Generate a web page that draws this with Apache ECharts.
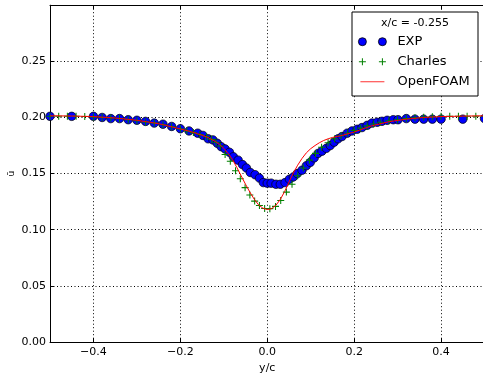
<!DOCTYPE html>
<html>
<head>
<meta charset="utf-8">
<script src="https://cdn.jsdelivr.net/npm/echarts@6/dist/echarts.min.js"></script>
<style>
  html, body { margin: 0; padding: 0; background: #fff; }
  #chart { width: 483px; height: 377px; }
</style>
</head>
<body>
<div id="chart"></div>
<script>
// Mean velocity profile at x/c = -0.255
const stationLabel = 'x/c = -0.255';

// Experiment
const expY = [-0.5, -0.45, -0.40, -0.38, -0.36, -0.34, -0.32, -0.30, -0.28, -0.26,
  -0.24, -0.22, -0.20, -0.18, -0.16, -0.148, -0.136, -0.125, -0.115, -0.106,
  -0.097, -0.087, -0.078, -0.067, -0.057, -0.048, -0.039, -0.028, -0.018, -0.009,
  0.0, 0.009, 0.020, 0.030, 0.041, 0.051, 0.060, 0.069, 0.080, 0.090,
  0.099, 0.108, 0.117, 0.126, 0.136, 0.145, 0.154, 0.163, 0.172, 0.184,
  0.195, 0.207, 0.218, 0.230, 0.241, 0.253, 0.264, 0.276, 0.290, 0.301,
  0.32, 0.34, 0.36, 0.38, 0.40, 0.45, 0.50];
const expU = [0.201, 0.201, 0.201, 0.200, 0.199, 0.199, 0.198, 0.1975, 0.1965, 0.195,
  0.194, 0.192, 0.190, 0.188, 0.186, 0.184, 0.181, 0.180, 0.177, 0.174,
  0.172, 0.169, 0.165, 0.162, 0.158, 0.155, 0.151, 0.149, 0.146, 0.142,
  0.1415, 0.1415, 0.1405, 0.1405, 0.142, 0.145, 0.147, 0.150, 0.153, 0.157,
  0.160, 0.164, 0.168, 0.170, 0.1725, 0.175, 0.178, 0.181, 0.183, 0.186,
  0.188, 0.1895, 0.191, 0.193, 0.195, 0.1957, 0.1966, 0.1975, 0.198, 0.198,
  0.199, 0.1985, 0.1985, 0.1985, 0.1985, 0.1985, 0.199];

// Charles LES
const charlesY = [-0.50, -0.48, -0.46, -0.44, -0.42, -0.40, -0.38, -0.36, -0.34, -0.32,
  -0.30, -0.28, -0.26, -0.24, -0.22, -0.20, -0.185, -0.17, -0.155, -0.14,
  -0.128, -0.118, -0.108, -0.097, -0.085, -0.073, -0.062, -0.051, -0.040, -0.029,
  -0.018, -0.006, 0.006, 0.019, 0.031, 0.044, 0.057, 0.070, 0.083, 0.097,
  0.111, 0.125, 0.140, 0.155, 0.170, 0.185, 0.200, 0.215, 0.230, 0.245,
  0.260, 0.280, 0.300, 0.320, 0.340, 0.360, 0.380, 0.400, 0.420, 0.440,
  0.460, 0.480, 0.500];
const charlesU = [0.201, 0.201, 0.201, 0.201, 0.2008, 0.2005, 0.200, 0.1995, 0.199, 0.198,
  0.197, 0.196, 0.195, 0.1935, 0.1918, 0.1898, 0.188, 0.1865, 0.1848, 0.1828,
  0.1805, 0.178, 0.1745, 0.167, 0.161, 0.1525, 0.1455, 0.1375, 0.131, 0.1255,
  0.1215, 0.119, 0.1188, 0.1208, 0.126, 0.1335, 0.1405, 0.148, 0.155, 0.162,
  0.168, 0.1735, 0.1775, 0.181, 0.1838, 0.1862, 0.1885, 0.1905, 0.1925, 0.1942,
  0.1957, 0.197, 0.198, 0.199, 0.1998, 0.2003, 0.2007, 0.201, 0.201, 0.201,
  0.201, 0.201, 0.201];

// OpenFOAM RANS
const foamY = [-0.5, -0.45, -0.4, -0.35, -0.3, -0.25, -0.2, -0.18, -0.16, -0.14,
  -0.12, -0.11, -0.10, -0.09, -0.08, -0.07, -0.06, -0.05, -0.04, -0.03,
  -0.02, -0.01, 0.0, 0.01, 0.02, 0.03, 0.04, 0.05, 0.06, 0.07,
  0.08, 0.09, 0.10, 0.11, 0.12, 0.13, 0.14, 0.15, 0.17, 0.20,
  0.24, 0.28, 0.32, 0.36, 0.40, 0.45, 0.50];
const foamU = [0.2015, 0.2013, 0.2008, 0.1995, 0.1975, 0.1945, 0.1898, 0.1878, 0.1855, 0.1828,
  0.1788, 0.176, 0.1725, 0.168, 0.1625, 0.1555, 0.148, 0.1405, 0.1335, 0.1272,
  0.1222, 0.1192, 0.118, 0.1188, 0.1218, 0.127, 0.134, 0.1425, 0.1505, 0.1575,
  0.1635, 0.1685, 0.1722, 0.175, 0.1775, 0.1795, 0.181, 0.1822, 0.1838, 0.187,
  0.1925, 0.1962, 0.1985, 0.2, 0.2008, 0.2012, 0.2015];

const yTicks = [0, 0.05, 0.10, 0.15, 0.20, 0.25];

function pairs(xs, ys) { return xs.map((x, i) => [x, ys[i]]); }

// marker and legend glyphs; the tiny corner triangles only pin each icon's box to 28x8
const plusPath = 'path://M0,3.4H8V4.6H0ZM3.4,0H4.6V8H3.4Z';
const twoDots = 'path://M0,4a4,4 0 1,0 8,0a4,4 0 1,0 -8,0ZM20,4a4,4 0 1,0 8,0a4,4 0 1,0 -8,0Z';
const twoPlus = 'path://M0.5,3.5H7.5V4.5H0.5ZM3.5,0.5H4.5V7.5H3.5ZM20.5,3.5H27.5V4.5H20.5ZM23.5,0.5H24.5V7.5H23.5Z' +
  'M0,0L0.01,0L0,0.01ZM28,8L27.99,8L28,7.99Z';
const shortLine = 'path://M0,0L0.01,0L0,0.01ZM2,3.5H26V4.5H2ZM28,8L27.99,8L28,7.99Z';

const font = 'DejaVu Sans';
const dotted = { color: '#000', width: 1, type: [1, 2.5] };

const chart = echarts.init(document.getElementById('chart'), null, { renderer: 'canvas' });

chart.setOption({
  backgroundColor: '#fff',
  animation: false,
  grid: { left: 50, right: -1.5, top: 5.2, bottom: 35, containLabel: false, outerBoundsMode: 'none' },
  xAxis: [{
    type: 'value', min: -0.5, max: 0.5, splitNumber: 5,
    name: 'y/c', nameLocation: 'middle', nameGap: 17,
    nameTextStyle: { fontFamily: font, fontSize: 11, color: '#000' },
    axisLine: { show: true, onZero: false, lineStyle: { color: '#000', width: 1 } },
    axisTick: { show: true, inside: true, length: 4, lineStyle: { color: '#000' } },
    axisLabel: {
      show: true, margin: 5, showMinLabel: false, showMaxLabel: false,
      fontFamily: font, fontSize: 11, color: '#000',
      formatter: v => (v < -1e-9 ? '\u2212' : '') + Math.abs(v).toFixed(1)
    },
    splitLine: { show: true, lineStyle: dotted }
  }, {
    type: 'value', position: 'top', min: -0.5, max: 0.5, splitNumber: 5,
    axisLine: { show: true, onZero: false, lineStyle: { color: '#000', width: 1 } },
    axisTick: { show: true, inside: true, length: 4, lineStyle: { color: '#000' } },
    axisLabel: { show: false },
    splitLine: { show: false }
  }],
  yAxis: {
    type: 'value', min: 0, max: 0.3, interval: 0.05,
    name: 'ū', nameLocation: 'middle', nameGap: 38, nameRotate: 90, nameMoveOverlap: false,
    nameTextStyle: { fontFamily: font, fontSize: 9, color: '#000', verticalAlign: 'middle' },
    axisLine: { show: true, onZero: false, lineStyle: { color: '#000', width: 1 } },
    axisTick: { show: true, inside: true, length: 4, lineStyle: { color: '#000' } },
    axisLabel: {
      margin: 4, showMaxLabel: false,
      fontFamily: font, fontSize: 11, color: '#000',
      formatter: v => (yTicks.some(t => Math.abs(t - v) < 1e-9) ? v.toFixed(2) : '')
    },
    splitLine: { show: true, lineStyle: dotted }
  },
  legend: {
    orient: 'vertical', left: 358, top: 34.7, padding: 0,
    itemWidth: 28, itemHeight: 8, itemGap: 6,
    selectedMode: false, z: 10,
    textStyle: { fontFamily: font, fontSize: 13, lineHeight: 14, color: '#000', padding: [0, 0, 0, 6] },
    data: [
      { name: 'EXP', icon: twoDots, itemStyle: { color: '#0000ff', borderColor: '#000', borderWidth: 0.8 } },
      { name: 'Charles', icon: twoPlus, itemStyle: { color: '#008000', borderWidth: 0 } },
      { name: 'OpenFOAM', icon: shortLine, itemStyle: { color: '#ff3333', borderWidth: 0 } }
    ]
  },
  graphic: [
    {
      type: 'rect', z: 5, silent: true,
      shape: { x: 352, y: 12, width: 126, height: 84 },
      style: { fill: '#fff', stroke: '#000', lineWidth: 1 }
    },
    {
      type: 'text', z: 11, silent: true,
      x: 415, y: 23,
      style: {
        text: stationLabel, fontFamily: font, fontSize: 11,
        fill: '#000', align: 'center', verticalAlign: 'middle'
      }
    }
  ],
  series: [
    {
      name: 'EXP', type: 'scatter', data: pairs(expY, expU),
      symbol: 'circle', symbolSize: 8.5, z: 2,
      itemStyle: { color: '#0000ff', borderColor: '#000', borderWidth: 0.7, opacity: 1 }
    },
    {
      name: 'Charles', type: 'scatter', data: pairs(charlesY, charlesU),
      symbol: plusPath, symbolSize: 7, z: 3,
      itemStyle: { color: '#008000', opacity: 1 }
    },
    {
      name: 'OpenFOAM', type: 'line', data: pairs(foamY, foamU),
      symbol: 'none', showSymbol: false, z: 4,
      lineStyle: { color: '#ff0000', width: 1 },
      itemStyle: { color: '#ff0000' }
    }
  ]
});
</script>
</body>
</html>
